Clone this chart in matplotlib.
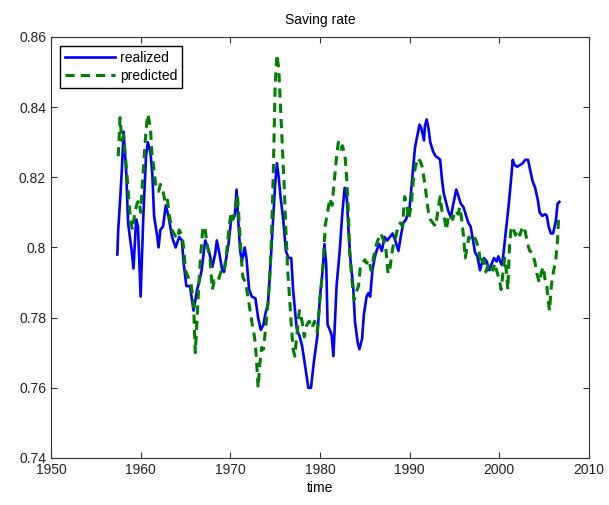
import matplotlib
matplotlib.use("Agg")
import matplotlib.pyplot as plt

plt.rcParams['font.family'] = ['Liberation Sans', 'DejaVu Sans']

# realized saving rate
realized_year = [
    1957.4, 1957.5, 1957.7, 1957.9, 1958.1, 1958.4, 1958.6, 1959.0, 1959.2, 1959.5,
    1959.7, 1960.0, 1960.3, 1960.6, 1960.8, 1961.1, 1961.3, 1961.5, 1961.8, 1962.0,
    1962.2, 1962.5, 1962.8, 1963.1, 1963.5, 1963.9, 1964.3, 1964.6, 1964.8, 1965.1,
    1965.5, 1965.9, 1966.3, 1966.6, 1966.8, 1967.2, 1967.5, 1967.7, 1968.0, 1968.3,
    1968.5, 1968.8, 1969.1, 1969.3, 1969.8, 1970.1, 1970.3, 1970.5, 1970.7, 1970.9,
    1971.1, 1971.3, 1971.6, 1971.8, 1972.1, 1972.4, 1972.8, 1973.1, 1973.4, 1973.7,
    1973.9, 1974.2, 1974.4, 1974.7, 1975.0, 1975.2, 1975.4, 1975.6, 1975.9, 1976.2,
    1976.5, 1976.8, 1977.0, 1977.4, 1977.75, 1978.0, 1978.3, 1978.7, 1979.0, 1979.3,
    1979.7, 1980.0, 1980.3, 1980.5, 1980.7, 1980.85, 1981.1, 1981.3, 1981.5, 1981.85,
    1982.2, 1982.5, 1982.75, 1983.0, 1983.2, 1983.4, 1983.7, 1983.9, 1984.2, 1984.4,
    1984.7, 1984.9, 1985.2, 1985.4, 1985.6, 1985.85, 1986.1, 1986.3, 1986.6, 1986.9,
    1987.2, 1987.5, 1987.8, 1988.1, 1988.4, 1988.75, 1989.0, 1989.3, 1989.6, 1990.0,
    1990.2, 1990.4, 1990.6, 1990.9, 1991.1, 1991.3, 1991.6, 1991.7, 1991.9, 1992.1,
    1992.3, 1992.6, 1992.9, 1993.2, 1993.4, 1993.6, 1993.8, 1994.1, 1994.3, 1994.6,
    1994.8, 1995.2, 1995.4, 1995.7, 1996.0, 1996.3, 1996.55, 1996.8, 1997.0, 1997.3,
    1997.55, 1997.85, 1998.1, 1998.3, 1998.6, 1998.9, 1999.1, 1999.4, 1999.7, 1999.9,
    2000.1, 2000.3, 2000.5, 2000.7, 2000.9, 2001.1, 2001.3, 2001.5, 2001.7, 2002.0,
    2002.3, 2002.6, 2002.9, 2003.2, 2003.45, 2003.7, 2004.0, 2004.3, 2004.5, 2004.8,
    2005.1, 2005.3, 2005.5, 2005.75, 2006.0, 2006.3, 2006.5, 2006.7,
]
realized = [
    .798, .805, .813, .822, .833, .821, .807, .799, .794, .808,
    .806, .786, .809, .826, .830, .827, .821, .809, .804, .800,
    .805, .806, .812, .809, .803, .800, .803, .802, .7955, .789,
    .789, .782, .788, .791, .7935, .802, .800, .798, .7945, .798,
    .802, .798, .7935, .793, .801, .808, .8085, .809, .8165, .807,
    .799, .796, .800, .797, .788, .786, .7855, .780, .7765, .778,
    .781, .784, .7915, .805, .818, .824, .820, .8145, .808, .799,
    .797, .797, .788, .777, .7745, .772, .767, .760, .760, .767,
    .7745, .786, .7935, .801, .795, .778, .7765, .775, .769, .789,
    .799, .810, .817, .814, .804, .7965, .789, .779, .773, .771,
    .774, .781, .786, .787, .786, .7935, .797, .799, .801, .799,
    .803, .802, .803, .804, .802, .799, .803, .807, .808, .8115,
    .817, .823, .8285, .8325, .835, .834, .8305, .8345, .8365, .834,
    .830, .8275, .826, .8255, .825, .8195, .8155, .8125, .8105, .8085,
    .8115, .8165, .815, .8125, .8115, .809, .807, .806, .803, .7985,
    .7975, .7935, .796, .797, .796, .7935, .795, .797, .796, .7975,
    .796, .795, .799, .804, .8085, .8135, .819, .825, .8235, .823,
    .8235, .824, .825, .825, .822, .819, .817, .8135, .810, .809,
    .8095, .809, .806, .804, .804, .8075, .8125, .813,
]

# model prediction
predicted_year = [
    1957.5, 1957.6, 1957.7, 1957.9, 1958.1, 1958.3, 1958.5, 1958.7, 1958.9, 1959.1,
    1959.35, 1959.6, 1959.8, 1960.0, 1960.2, 1960.4, 1960.6, 1960.8, 1961.1, 1961.25,
    1961.5, 1961.7, 1962.0, 1962.2, 1962.5, 1962.75, 1963.0, 1963.2, 1963.5, 1963.8,
    1964.1, 1964.3, 1964.6, 1964.8, 1965.0, 1965.3, 1965.6, 1965.9, 1966.0, 1966.1,
    1966.3, 1966.5, 1966.7, 1966.95, 1967.2, 1967.45, 1967.7, 1968.0, 1968.2, 1968.45,
    1968.7, 1969.0, 1969.3, 1969.6, 1969.9, 1970.1, 1970.3, 1970.6, 1970.8, 1970.95,
    1971.2, 1971.4, 1971.7, 1971.9, 1972.2, 1972.45, 1972.7, 1972.9, 1973.1, 1973.3,
    1973.5, 1973.7, 1973.9, 1974.2, 1974.4, 1974.6, 1974.8, 1975.0, 1975.2, 1975.4,
    1975.6, 1975.8, 1976.0, 1976.2, 1976.4, 1976.6, 1976.8, 1977.0, 1977.2, 1977.4,
    1977.7, 1978.0, 1978.25, 1978.55, 1978.8, 1979.1, 1979.4, 1979.7, 1979.9, 1980.1,
    1980.35, 1980.6, 1980.85, 1981.1, 1981.35, 1981.6, 1981.85, 1982.05, 1982.3, 1982.5,
    1982.8, 1983.0, 1983.2, 1983.3, 1983.55, 1983.8, 1984.0, 1984.3, 1984.5, 1984.75,
    1985.0, 1985.2, 1985.45, 1985.7, 1986.0, 1986.3, 1986.6, 1986.8, 1987.1, 1987.3,
    1987.6, 1987.8, 1988.0, 1988.2, 1988.45, 1988.7, 1988.95, 1989.2, 1989.45, 1989.7,
    1989.9, 1990.2, 1990.4, 1990.65, 1990.9, 1991.2, 1991.4, 1991.7, 1991.9, 1992.1,
    1992.3, 1992.6, 1992.9, 1993.15, 1993.4, 1993.6, 1993.9, 1994.1, 1994.3, 1994.6,
    1994.8, 1995.1, 1995.4, 1995.6, 1995.8, 1996.0, 1996.2, 1996.4, 1996.6, 1996.9,
    1997.2, 1997.4, 1997.65, 1997.85, 1998.05, 1998.3, 1998.5, 1998.8, 1999.0, 1999.3,
    1999.5, 1999.8, 2000.0, 2000.2, 2000.4, 2000.6, 2000.8, 2000.95, 2001.15, 2001.3,
    2001.5, 2001.8, 2002.0, 2002.3, 2002.6, 2002.9, 2003.15, 2003.4, 2003.7, 2004.0,
    2004.2, 2004.45, 2004.7, 2004.9, 2005.1, 2005.3, 2005.45, 2005.6, 2005.8, 2006.0,
    2006.3, 2006.5, 2006.6,
]
predicted = [
    .826, .831, .837, .8305, .832, .826, .820, .813, .807, .805,
    .810, .8125, .8135, .810, .8185, .826, .8335, .838, .834, .827,
    .822, .8175, .816, .818, .816, .8125, .8135, .809, .805, .8035,
    .8025, .805, .8035, .800, .7935, .7915, .790, .784, .7765, .770,
    .780, .790, .798, .806, .805, .800, .798, .788, .7905, .790,
    .791, .7935, .793, .799, .8065, .810, .808, .8115, .815, .809,
    .798, .7915, .790, .787, .782, .778, .7745, .769, .760, .767,
    .7715, .771, .776, .784, .7915, .803, .822, .846, .855, .851,
    .840, .8295, .818, .805, .7935, .786, .778, .771, .769, .7745,
    .782, .779, .7745, .778, .779, .777, .779, .776, .782, .788,
    .795, .8065, .810, .814, .812, .819, .826, .830, .828, .829,
    .826, .819, .808, .799, .791, .785, .787, .789, .7945, .7955,
    .7965, .7955, .7965, .7935, .7975, .801, .803, .804, .802, .801,
    .7925, .794, .798, .801, .803, .806, .807, .806, .8145, .812,
    .808, .8125, .819, .823, .8255, .8245, .823, .818, .814, .810,
    .808, .807, .806, .8105, .8145, .8105, .808, .805, .8085, .8095,
    .808, .8105, .8095, .8115, .808, .8035, .797, .800, .803, .802,
    .803, .802, .800, .797, .795, .7965, .793, .7955, .7945, .7935,
    .7955, .7925, .791, .788, .7925, .797, .793, .788, .801, .805,
    .806, .8035, .805, .8035, .806, .8045, .801, .799, .7985, .7955,
    .7925, .790, .793, .7945, .791, .789, .785, .782, .789, .7925,
    .7965, .802, .808,
]

x_ticks = [1950, 1960, 1970, 1980, 1990, 2000, 2010]
y_ticks = [0.74, 0.76, 0.78, 0.80, 0.82, 0.84, 0.86]
y_labels = ['0.74', '0.76', '0.78', '0.8', '0.82', '0.84', '0.86']

fig = plt.figure(figsize=(6.09, 5.05), dpi=100)
ax = fig.add_axes([0.0837, 0.0931, 0.8834, 0.8337])

ax.plot(realized_year, realized, color='#0000ff', lw=1.9, label='realized')
ax.plot(predicted_year, predicted, color='#007f00', lw=2.2, ls='--',
        dashes=(3, 2), label='predicted')

ax.set_xlim(1950, 2010)
ax.set_ylim(0.74, 0.86)
ax.set_xticks(x_ticks)
ax.set_yticks(y_ticks)
ax.set_yticklabels(y_labels)
ax.tick_params(direction='in', top=True, right=True, length=4, width=0.8,
               labelsize=10, colors='#333333', labelcolor='#222222')
for s in ax.spines.values():
    s.set_color('#333333')
    s.set_linewidth(0.8)

ax.set_title('Saving rate', fontsize=10, pad=9)
ax.set_xlabel('time', fontsize=10, labelpad=3)

leg = ax.legend(loc='upper left', bbox_to_anchor=(0.0167, 0.979),
                borderaxespad=0, fancybox=False, framealpha=1,
                edgecolor='black', handlelength=3.6, handletextpad=0.35,
                labelspacing=0.3, borderpad=0.35, fontsize=10)
leg.get_frame().set_linewidth(1.0)

fig.savefig('out.png', dpi=100)
